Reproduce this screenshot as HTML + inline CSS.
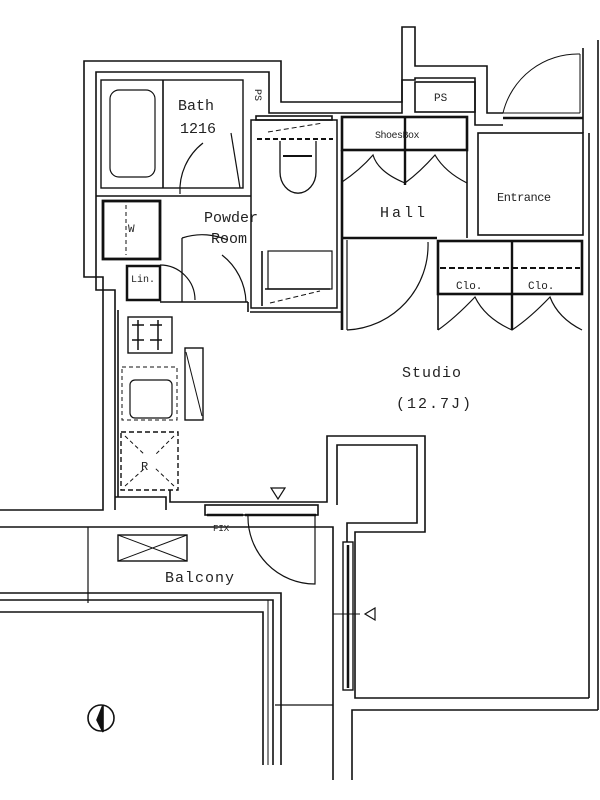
<!DOCTYPE html>
<html><head><meta charset="utf-8"><style>
html,body{margin:0;padding:0;background:#fff;}
svg{display:block}
text{font-family:"Liberation Mono","DejaVu Sans Mono",monospace;fill:#222}
</style></head><body>
<svg width="600" height="800" viewBox="0 0 600 800" xmlns="http://www.w3.org/2000/svg">
<g fill="none" stroke="#111" stroke-width="1.6">
<!-- outer building outline -->
<polyline points="0,510 103,510 103,277 84,277 84,61 281,61 281,102 402,102 402,27 415,27 415,66 487,66 487,113 503,113"/>
<polyline points="115,510 115,290 96,290 96,72 269,72 269,113 402,113 402,80 415,80 415,78 475,78 475,125 503,125"/>
<line x1="583" y1="48" x2="583" y2="133"/>
<line x1="589" y1="133" x2="589" y2="698"/>
<line x1="598" y1="40" x2="598" y2="710"/>
<rect x="415" y="82" width="60" height="30"/>
<!-- entrance door -->
<line x1="503" y1="113" x2="580" y2="113" stroke-width="1"/>
<line x1="503" y1="118" x2="583" y2="118" stroke-width="2.5"/>
<line x1="580" y1="54" x2="580" y2="113" stroke-width="1"/>
<path d="M503,113 A77,77 0 0 1 580,54" stroke-width="1"/>
<!-- entrance room -->
<rect x="478" y="133" width="105" height="102"/>
<!-- bath -->
<rect x="101" y="80" width="142" height="108" stroke-width="1.4"/>
<line x1="163" y1="80" x2="163" y2="188"/>
<rect x="110" y="90" width="45" height="87" rx="9" stroke-width="1.2"/>
<path d="M180,194 A60,60 0 0 1 203,143" stroke-width="1.2"/>
<path d="M240,188 L231,133" stroke-width="1.2"/>
<line x1="96" y1="196" x2="251" y2="196"/>
<!-- toilet room -->
<rect x="251" y="120" width="86" height="188" stroke-width="1.5"/>
<rect x="256" y="116" width="76" height="4"/>
<line x1="257" y1="139" x2="333" y2="139" stroke-width="2" stroke-dasharray="5,3"/>
<line x1="268" y1="132" x2="323" y2="123" stroke-width="1" stroke-dasharray="5,3"/>
<path d="M280,141 L280,172 A17,20 0 0 0 316,172 L316,141" stroke-width="1.3"/>
<line x1="283" y1="156" x2="312" y2="156" stroke-width="2"/>
<rect x="268" y="251" width="64" height="38" stroke-width="1.2"/>
<line x1="262" y1="251" x2="262" y2="306" />
<line x1="265" y1="289" x2="330" y2="289"/>
<line x1="270" y1="303" x2="320" y2="291" stroke-width="1" stroke-dasharray="5,3"/>
<!-- powder room -->
<rect x="103" y="201" width="57" height="58" stroke-width="2.8"/>
<line x1="126" y1="205" x2="126" y2="255" stroke-dasharray="4,3" stroke-width="1"/>
<line x1="160" y1="201" x2="160" y2="258" stroke-dasharray="4,3" stroke-width="1.5"/>
<rect x="127" y="266" width="33" height="34" stroke-width="2.5"/>
<path d="M160,265 A35,35 0 0 1 195,300" stroke-width="1.2"/>
<line x1="160" y1="302" x2="248" y2="302"/>
<path d="M182,238 L182,302" stroke-width="1.3"/>
<path d="M182,238 C200,232 215,235 228,240" stroke-width="1.2"/>
<path d="M222,255 A62,62 0 0 1 246,302" stroke-width="1.2"/>
<line x1="248" y1="302" x2="248" y2="312"/>
<line x1="250" y1="312" x2="342" y2="312"/>
<!-- hall -->
<rect x="342" y="117" width="125" height="33" stroke-width="2.6"/>
<line x1="405" y1="117" x2="405" y2="185" stroke-width="2.4"/>
<line x1="342" y1="150" x2="342" y2="330" stroke-width="2.6"/>
<line x1="467" y1="150" x2="467" y2="238"/>
<line x1="342" y1="238" x2="437" y2="238" stroke-width="2.6"/>
<path d="M342,182 Q360,170 373,155 Q378,172 405,183 Q420,172 435,155 Q445,172 467,183" stroke-width="1.2"/>
<path d="M347,330 L347,240 M347,330 A85,85 0 0 0 428,242" stroke-width="1.2"/>
<!-- closets -->
<rect x="438" y="241" width="144" height="53" stroke-width="2.6"/>
<line x1="512" y1="241" x2="512" y2="330" stroke-width="2.4"/>
<line x1="440" y1="268" x2="580" y2="268" stroke-dasharray="6,3" stroke-width="2"/>
<path d="M438,330 Q455,318 475,297 Q485,318 512,330 Q530,318 550,297 Q558,318 582,330" stroke-width="1.2"/>
<line x1="438" y1="294" x2="438" y2="330"/>
<!-- kitchen -->
<rect x="128" y="317" width="44" height="36" stroke-width="1.4"/>
<path d="M132,325 h12 M150,325 h12 M132,340 h12 M150,340 h12 M138,320 v30 M158,320 v30" stroke-width="1.5"/>
<rect x="122" y="367" width="55" height="53" stroke-dasharray="4,3" stroke-width="1"/>
<rect x="130" y="380" width="42" height="38" rx="5" stroke-width="1.2"/>
<rect x="185" y="348" width="18" height="72" stroke-width="1.4"/>
<line x1="186" y1="352" x2="202" y2="416" stroke-width="1"/>
<rect x="121" y="432" width="57" height="58" stroke-dasharray="5,3" stroke-width="1.4"/>
<line x1="125" y1="436" x2="145" y2="455" stroke-dasharray="4,3" stroke-width="1"/>
<line x1="174" y1="486" x2="155" y2="468" stroke-dasharray="4,3" stroke-width="1"/>
<line x1="174" y1="436" x2="155" y2="455" stroke-dasharray="4,3" stroke-width="1"/>
<line x1="125" y1="486" x2="145" y2="468" stroke-dasharray="4,3" stroke-width="1"/>
<polyline points="115,497 166,497 166,510"/>
<line x1="118" y1="310" x2="118" y2="497"/>
<!-- studio lower outline -->
<polyline points="170,490 170,502 327,502 327,436 425,436 425,532 355,532 355,698 589,698"/>
<polyline points="337,505 337,445 417,445 417,523 347,523 347,542"/>
<polyline points="352,780 352,710 598,710"/>
<polyline points="333,780 333,527 0,527"/>
<!-- sash window -->
<rect x="205" y="505" width="113" height="10"/>
<line x1="207" y1="515" x2="243" y2="515" stroke-width="2.5"/>
<line x1="245" y1="515" x2="316" y2="515" stroke-width="2.5"/>
<path d="M248,515 A67,67 0 0 0 315,584 L315,515" stroke-width="1.2"/>
<!-- right window -->
<rect x="343" y="542" width="10" height="148" stroke-width="1.4"/>
<line x1="348" y1="545" x2="348" y2="688" stroke-width="2.5"/>
<line x1="333" y1="614" x2="360" y2="614" stroke-width="1"/>
<path d="M375,608 L365,614 L375,620 Z" stroke-width="1.2"/>
<path d="M271,488 L285,488 L278,499 Z" stroke-width="1.2"/>
<!-- balcony -->
<line x1="88" y1="527" x2="88" y2="603" stroke-width="1.2"/>
<polyline points="0,593 281,593 281,765"/>
<polyline points="0,600 273,600 273,765"/>
<polyline points="0,612 263,612 263,765"/>
<polyline points="268,600 268,765" stroke-width="1"/>
<line x1="275" y1="705" x2="333" y2="705" stroke-width="1.2"/>
<rect x="118" y="535" width="69" height="26" stroke-width="1.4"/>
<line x1="118" y1="535" x2="187" y2="561" stroke-width="1"/>
<line x1="187" y1="535" x2="118" y2="561" stroke-width="1"/>
<!-- compass -->
<circle cx="101" cy="718" r="13" stroke-width="1.6"/>
<path d="M103,705 L97,720 L103,732 Z" fill="#111"/>
</g>
<g font-size="15">
<text x="178" y="110">Bath</text>
<text x="180" y="133">1216</text>
<text x="204" y="222">Powder</text>
<text x="211" y="243">Room</text>
<text x="380" y="217" letter-spacing="3">Hall</text>
<text x="402" y="377" letter-spacing="1">Studio</text>
<text x="396" y="408" letter-spacing="2">(12.7J)</text>
<text x="165" y="582" letter-spacing="1">Balcony</text>
</g>
<g font-size="11" font-family="Liberation Sans,sans-serif">
<text x="375" y="138" font-size="10" letter-spacing="-0.5">ShoesBox</text>
<text x="497" y="201" font-size="12" letter-spacing="-0.5">Entrance</text>
<text x="456" y="289">Clo.</text>
<text x="528" y="289">Clo.</text>
<text x="434" y="101">PS</text>
<text x="131" y="282" font-size="10">Lin.</text>
<text x="128" y="232" font-size="11">W</text>
<text x="141" y="470" font-size="12">R</text>
<text x="213" y="531" font-size="9">FIX</text>
<text x="255" y="95" font-size="10" transform="rotate(90 258 92)">PS</text>
</g>
</svg>
</body></html>
